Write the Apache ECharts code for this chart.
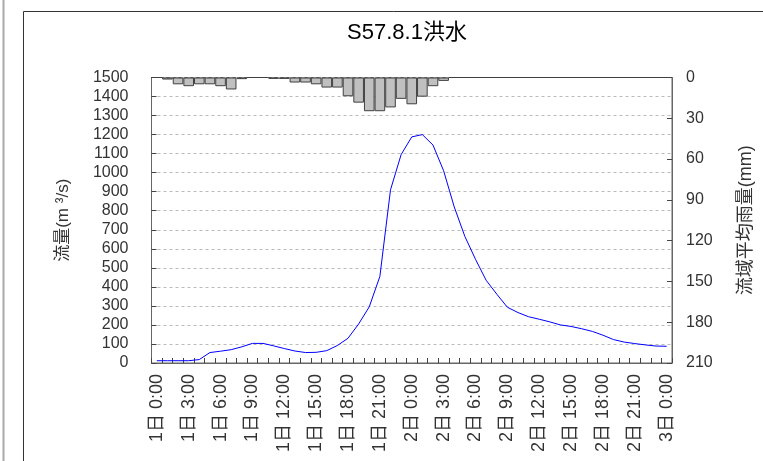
<!DOCTYPE html>
<html>
<head>
<meta charset="utf-8">
<script src="https://cdn.jsdelivr.net/npm/echarts@6/dist/echarts.min.js"></script>
<style>html,body{margin:0;padding:0;background:#fff;}#c{width:763px;height:461px;}</style>
</head>
<body>
<div id="c"></div>
<script>
var categories = [
  "1日 0:00","1日 1:00","1日 2:00","1日 3:00","1日 4:00","1日 5:00","1日 6:00","1日 7:00",
  "1日 8:00","1日 9:00","1日 10:00","1日 11:00","1日 12:00","1日 13:00","1日 14:00","1日 15:00",
  "1日 16:00","1日 17:00","1日 18:00","1日 19:00","1日 20:00","1日 21:00","1日 22:00","1日 23:00",
  "2日 0:00","2日 1:00","2日 2:00","2日 3:00","2日 4:00","2日 5:00","2日 6:00","2日 7:00",
  "2日 8:00","2日 9:00","2日 10:00","2日 11:00","2日 12:00","2日 13:00","2日 14:00","2日 15:00",
  "2日 16:00","2日 17:00","2日 18:00","2日 19:00","2日 20:00","2日 21:00","2日 22:00","2日 23:00",
  "3日 0:00"
];
var flow = [
  12,12,12,12,18,55,62,70,85,103,103,90,76,63,55,56,
  65,92,130,205,295,455,910,1095,1188,1200,1145,1010,820,665,545,435,
  362,293,265,243,230,216,200,192,180,166,146,123,110,102,95,89,
  88
];
var rain = [
  0,1.5,5,6.4,5,5,6.4,8.8,1.2,0,0,1,1,3.7,3.7,5,
  7.4,7.4,13.8,18.5,24.8,24.8,22,15.7,19.7,14.1,6.4,2.5,0,0,0,0,
  0,0,0,0,0,0,0,0,0,0,0,0,0,0,0,0,
  0
];
var titleText = "S57.8.1洪水";
var leftName = "流量(m ³/s)";
var rightName = "流域平均雨量(mm)";

var FONT = "'Liberation Sans','Noto Sans CJK JP',sans-serif";
var chart = echarts.init(document.getElementById('c'), null, {renderer: 'canvas'});
chart.setOption({
  animation: false,
  backgroundColor: '#fff',
  title: {
    text: titleText, left: 402, top: 17, textAlign: 'center',
    textStyle: {fontFamily: FONT, fontSize: 22, fontWeight: 'normal', color: '#000'}
  },
  graphic: [
    {type: 'line', shape: {x1: 3.5, y1: 0, x2: 3.5, y2: 461}, style: {stroke: '#aaa', lineWidth: 2}, silent: true},
    {type: 'rect', shape: {x: 23.5, y: 11.5, width: 800, height: 500}, style: {stroke: '#333', fill: null, lineWidth: 1}, silent: true}
  ],
  grid: {left: 151.5, top: 77.5, right: 90, bottom: 98, show: true, borderColor: '#666', borderWidth: 1, containLabel: false},
  xAxis: {
    type: 'category', data: categories, boundaryGap: true,
    axisLine: {lineStyle: {color: '#666'}},
    axisTick: {show: true, inside: true, interval: 0, length: 5, lineStyle: {color: '#444'}},
    axisLabel: {interval: 2, rotate: 90, margin: 11, fontFamily: FONT, fontSize: 18, color: '#333'},
    splitLine: {show: false}
  },
  yAxis: [
    {
      type: 'value', min: 0, max: 1500, interval: 100,
      name: leftName, nameLocation: 'middle', nameGap: 80, nameRotate: 90,
      nameTextStyle: {fontFamily: FONT, fontSize: 17, color: '#333'},
      axisLine: {show: true, lineStyle: {color: '#666'}},
      axisTick: {show: true, inside: true, length: 5, lineStyle: {color: '#444'}},
      axisLabel: {margin: 23, fontFamily: FONT, fontSize: 16, color: '#333', formatter: function (v) { return String(v); }},
      splitLine: {show: true, lineStyle: {color: '#bbb', type: [3, 3], width: 1}}
    },
    {
      type: 'value', min: 0, max: 210, interval: 30, inverse: true, position: 'right',
      name: rightName, nameLocation: 'middle', nameGap: 65, nameRotate: 90,
      nameTextStyle: {fontFamily: FONT, fontSize: 18, color: '#333'},
      axisLine: {show: true, lineStyle: {color: '#666'}},
      axisTick: {show: true, inside: true, length: 5, lineStyle: {color: '#444'}},
      axisLabel: {margin: 14, fontFamily: FONT, fontSize: 16, color: '#333', formatter: function (v) { return String(v); }},
      splitLine: {show: false}
    }
  ],
  series: [
    {
      name: '雨量', type: 'bar', yAxisIndex: 1, data: rain,
      barWidth: '100%', barCategoryGap: '0%', barGap: '0%',
      itemStyle: {color: '#c0c0c0', borderColor: '#404040', borderWidth: 1},
      silent: true
    },
    {
      name: '流量', type: 'line', yAxisIndex: 0, data: flow,
      showSymbol: false, symbol: 'none',
      lineStyle: {color: '#0000ff', width: 1},
      silent: true, z: 3
    }
  ]
});
</script>
</body>
</html>
